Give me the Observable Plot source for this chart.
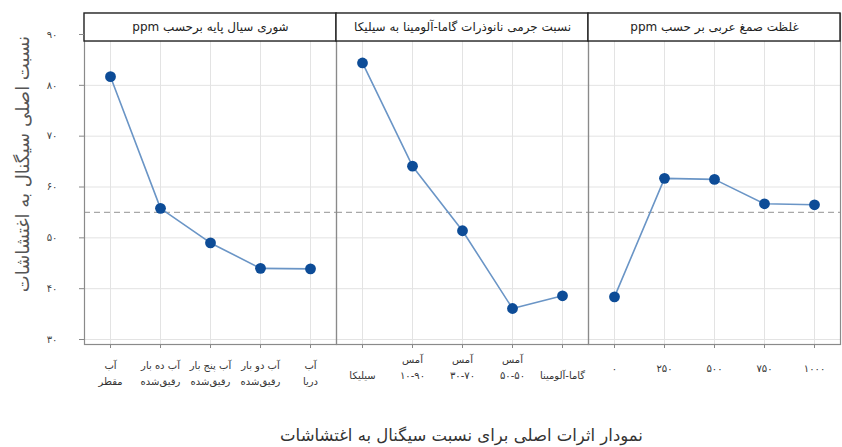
<!DOCTYPE html>
<html>
<head>
<meta charset="utf-8">
<script src="https://cdn.jsdelivr.net/npm/d3@7"></script>
<script src="https://cdn.jsdelivr.net/npm/@observablehq/plot@0.6"></script>
<style>
  html, body { margin: 0; padding: 0; background: white; overflow: hidden; }
  #wrap { position: relative; width: 842px; height: 447px; }
  #caption {
    position: absolute; left: 83px; width: 757px; top: 426px;
    text-align: center; direction: rtl;
    font-family: "DejaVu Sans", sans-serif; font-size: 16.5px; line-height: 20px; color: #333;
  }
</style>
</head>
<body>
<div id="wrap"><div id="chart"></div><div id="caption"></div></div>
<script>
// ---- data ----
const factors = [
  "شوری سیال پایه برحسب ppm",
  "نسبت جرمی نانوذرات گاما-آلومینا به سیلیکا",
  "غلظت صمغ عربی بر حسب ppm"
];
const salinityLevels = ["آب\nمقطر", "آب ده بار\nرقیق‌شده", "آب پنج بار\nرقیق‌شده", "آب دو بار\nرقیق‌شده", "آب\nدریا"];
const salinityValues = [81.7, 55.8, 49.0, 44.0, 43.9];
const ratioLevels = ["\nسیلیکا", "آمس\n۱۰-۹۰", "آمس\n۳۰-۷۰", "آمس\n۵۰-۵۰", "\nگاما-آلومینا"];
const ratioValues = [84.4, 64.1, 51.4, 36.1, 38.6];
const gumLevels = ["۰", "۲۵۰", "۵۰۰", "۷۵۰", "۱۰۰۰"];
const gumValues = [38.4, 61.7, 61.5, 56.7, 56.5];
const grandMean = 55.0;
const yTicks = [30, 40, 50, 60, 70, 80, 90];
const yTitle = "نسبت اصلی سیگنال به اغتشاشات";
const captionText = "نمودار اثرات اصلی برای نسبت سیگنال به اغتشاشات";

// ---- table ----
const rows = [];
function addFactor(f, levels, values) {
  levels.forEach((l, i) => rows.push({factor: f, idx: i, label: l, value: values[i]}));
}
addFactor(factors[0], salinityLevels, salinityValues);
addFactor(factors[1], ratioLevels, ratioValues);
addFactor(factors[2], gumLevels, gumValues);
const positions = [0, 1, 2, 3, 4];

const fa = n => String(n).replace(/\d/g, d => "۰۱۲۳۴۵۶۷۸۹"[d]);
const rtl = s => "\u202B" + s + "\u202C";

const yDomain = [29.02, 94.13];
const headerBottom = 88.62;
const headerMid = 91.38;

const labelMark = (f, dy) => Plot.text(rows.filter(d => d.factor === f), {
  fx: "factor", x: "idx", text: "label", frameAnchor: "bottom", lineAnchor: "top",
  dy, lineHeight: 1.6, fontSize: 10, fill: "#333"
});

const chart = Plot.plot({
  width: 842, height: 400,
  marginLeft: 83, marginRight: 1, marginTop: 13, marginBottom: 56,
  style: {fontFamily: "DejaVu Sans, sans-serif", fontSize: 10, background: "white"},
  fx: {domain: factors, padding: 0, axis: null, label: null},
  x: {type: "point", domain: positions, padding: 0.5, axis: null, label: null},
  y: {domain: yDomain, axis: null, label: null},
  marks: [
    Plot.gridY(yTicks, {stroke: "#e3e3e3", strokeOpacity: 1}),
    Plot.gridX(positions, {stroke: "#e3e3e3", strokeOpacity: 1}),
    Plot.ruleY([grandMean], {stroke: "#a8a8a8", strokeDasharray: "6,4", strokeWidth: 1.3}),
    Plot.line(rows, {fx: "factor", x: "idx", y: "value", stroke: "#6a95c6", strokeWidth: 1.6}),
    Plot.dot(rows, {fx: "factor", x: "idx", y: "value", r: 5.4, fill: "#0d4c97"}),
    Plot.frame({stroke: "#8a8a8a", strokeWidth: 1.2}),
    Plot.rect(factors, {fx: d => d, y1: () => headerBottom, y2: () => yDomain[1], fill: "white", stroke: "#222", strokeWidth: 1.4}),
    Plot.text(factors, {fx: d => d, y: () => headerMid, text: d => rtl(d), fontSize: 12, fill: "#222"}),
    Plot.axisY(yTicks, {anchor: "left", tickFormat: fa, tickSize: 5, tickPadding: 22, fontSize: 10, stroke: "#888", fill: "#444", label: null}),
    Plot.axisX(positions, {anchor: "bottom", tickFormat: () => "", tickSize: 4, stroke: "#888", label: null}),
    labelMark(factors[0], 13),
    labelMark(factors[1], 7),
    labelMark(factors[2], 16),
    Plot.text([yTitle], {fx: () => factors[0], y: () => 64.5, frameAnchor: "left", textAnchor: "middle", dx: -61, rotate: -90, fontSize: 18, fill: "#555"})
  ]
});
document.getElementById("chart").appendChild(chart);
document.getElementById("caption").textContent = captionText;
</script>
</body>
</html>
